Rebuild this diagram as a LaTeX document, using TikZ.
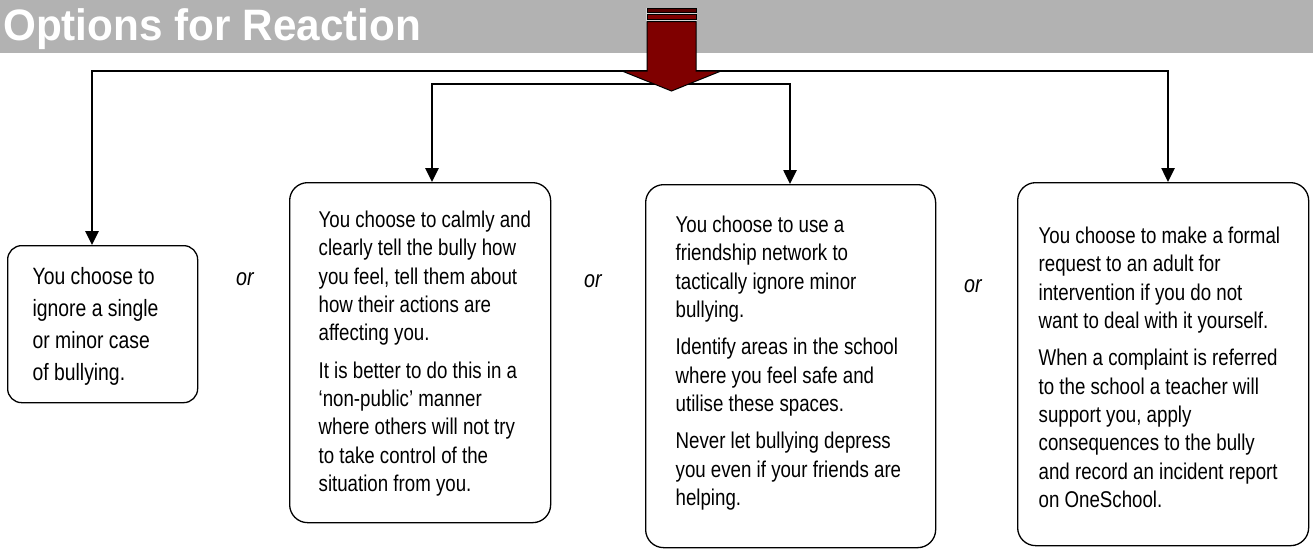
\documentclass[tikz,border=0pt]{standalone}
\usepackage{fontspec}
\setmainfont{Liberation Sans}[FakeStretch=0.82]
\newfontfamily\titlefont{Liberation Sans}[FakeStretch=0.96]
\usetikzlibrary{arrows.meta}
\definecolor{bandgray}{HTML}{B2B2B2}
\definecolor{darkred}{HTML}{7F0000}
\newcommand\boxcontent[5]{\parbox[c][#2][t]{#1}{\raggedright\leftskip=#4\relax\parskip=9pt\relax\rule{0pt}{#3}#5}}
\begin{document}
\begin{tikzpicture}[x=1pt,y=-1pt,
  optbox/.style={draw=black, line width=1.3pt, rounded corners=18pt, inner sep=0pt, anchor=north west,
    font=\fontsize{22.8pt}{28.3pt}\selectfont},
  bus/.style={line width=2.6pt, line join=miter},
  orlabel/.style={font=\itshape\fontsize{24pt}{24pt}\selectfont, inner sep=0pt, anchor=base west},
  redpart/.style={fill=darkred, draw=black, line width=1pt}]
\useasboundingbox (0,0) rectangle (1313,549);
% header band
\fill[bandgray] (0,0) rectangle (1313,52.5);
\node[anchor=base west, text=white, inner sep=0pt, font=\titlefont\bfseries\fontsize{44pt}{44pt}\selectfont] (title) at (3,40) {Options for Reaction};
% boxes
\node[optbox, rounded corners=14pt, font=\fontsize{23.6pt}{32pt}\selectfont] (b1) at (7,245)
  {\boxcontent{190pt}{157pt}{39pt}{25pt}{You choose to\\ ignore a single\\ or minor case\\ of bullying.}};
\node[optbox] (b2) at (289,182)
  {\boxcontent{261pt}{340pt}{45pt}{29pt}{You choose to calmly and\\ clearly tell the bully how\\ you feel, tell them about\\ how their actions are\\ affecting you.\par It is better to do this in a\\ `non-public' manner\\ where others will not try\\ to take control of the\\ situation from you.}};
\node[optbox] (b3) at (645,184)
  {\boxcontent{290pt}{363pt}{48pt}{30pt}{You choose to use a\\ friendship network to\\ tactically ignore minor\\ bullying.\par Identify areas in the school\\ where you feel safe and\\ utilise these spaces.\par Never let bullying depress\\ you even if your friends are\\ helping.}};
\node[optbox] (b4) at (1017,182)
  {\boxcontent{291pt}{363pt}{61pt}{21pt}{You choose to make a formal\\ request to an adult for\\ intervention if you do not\\ want to deal with it yourself.\par When a complaint is referred\\ to the school a teacher will\\ support you, apply\\ consequences to the bully\\ and record an incident report\\ on OneSchool.}};
% or labels
\node[orlabel] (or1) at (236,285) {or};
\node[orlabel] (or2) at (584,287) {or};
\node[orlabel] (or3) at (964,292) {or};
% connectors
\coordinate (j1) at (92,71);
\coordinate (j4) at (1168,71);
\coordinate (j2) at (432,84);
\coordinate (j3) at (790,84);
\draw[bus, {Triangle[width=13pt,length=14pt]}-{Triangle[width=13pt,length=14pt]}] (j1 |- b1.north) -- (j1) -- (j4) -- (j4 |- b4.north);
\draw[bus, {Triangle[width=13pt,length=14pt]}-{Triangle[width=13pt,length=14pt]}] (j2 |- b2.north) -- (j2) -- (j3) -- (j3 |- b3.north);
% big red arrow
\fill[gray!35] (646,7.5) rectangle (697,22);
\draw[redpart, fill=darkred!70!black] (647,8.5) rectangle (696,12.5);
\draw[redpart] (647,14.5) rectangle (696,19.5);
\draw[redpart, line join=miter] (647,21.5) -- (696,21.5) -- (696,71) -- (721,71) -- (671.5,91) -- (622,71) -- (647,71) -- cycle;
\end{tikzpicture}
\end{document}
